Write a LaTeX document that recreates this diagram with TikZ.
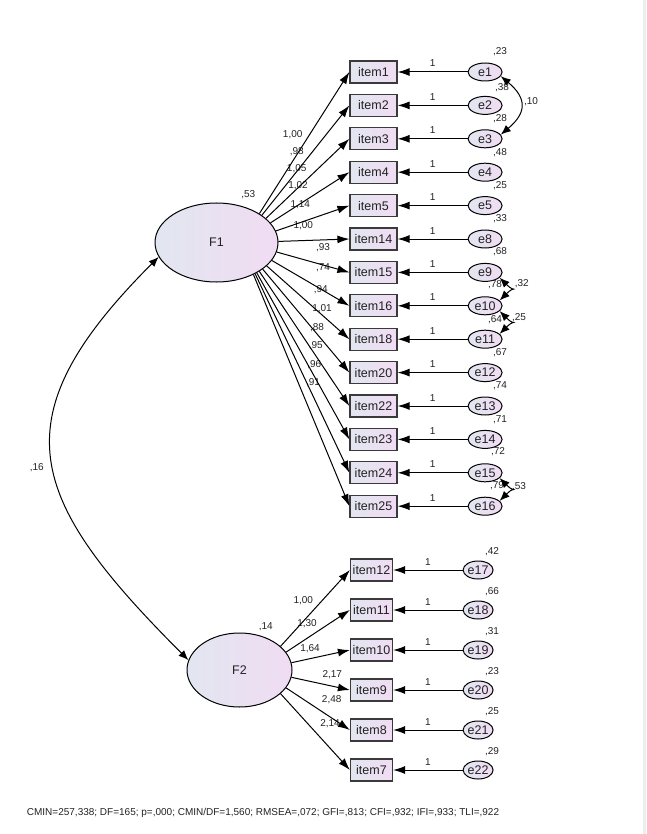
\documentclass[tikz,border=0pt]{standalone}
\usepackage{fontspec}
\setmainfont{Liberation Sans}
\usetikzlibrary{shapes.geometric, arrows.meta, positioning, calc}
\definecolor{azulgris}{HTML}{E2E6F0}
\definecolor{lila}{HTML}{F0DCF3}
\definecolor{borde}{HTML}{3A3A3A}
\definecolor{tinta}{HTML}{222222}
\definecolor{marco}{HTML}{EEEEEE}
\tikzset{
  observ/.style={rectangle, minimum width=47pt, minimum height=22pt, inner sep=1pt, text=tinta,
                 draw=borde, line width=1.2pt, left color=azulgris, right color=lila,
                 font=\fontsize{12.5}{12.5}\selectfont},
  observb/.style={observ, minimum width=42pt},
  latente/.style={ellipse, draw=black, line width=1pt, left color=azulgris, right color=lila,
                  text=tinta, font=\fontsize{12.5}{12.5}\selectfont},
  errorc/.style={ellipse, minimum width=34pt, minimum height=18pt, inner sep=0pt, text=tinta,
                 draw=black, line width=1pt, left color=azulgris, right color=lila,
                 font=\fontsize{12.5}{12.5}\selectfont},
  errorb/.style={errorc, minimum width=30pt},
  etiq/.style={font=\fontsize{10}{10}\selectfont, inner sep=0pt, text=tinta},
  arrow/.style={line width=1pt, -{Latex[length=12pt,width=8pt]}},
  covar/.style={line width=1pt, {Latex[length=10pt,width=8pt]}-{Latex[length=10pt,width=8pt]}}
}
\begin{document}
\begin{tikzpicture}[x=1pt, y=-1pt, node distance=10.2pt]
  \useasboundingbox (0,0) rectangle (646,834);
  \fill [marco] (643,0) rectangle (646,834);
  % factores
  \node (F1) [latente, minimum width=123pt, minimum height=79pt] at (216.5,242.5) {F1};
  \node (F2) [latente, minimum width=105pt, minimum height=74pt] at (239.5,670) {F2};
  % items F1
  \node (i1) [observ] at (373.5,72) {item1};
  \node (i2) [observ, below=of i1] {item2};
  \node (i3) [observ, below=of i2] {item3};
  \node (i4) [observ, below=of i3] {item4};
  \node (i5) [observ, below=of i4] {item5};
  \node (i14) [observ, below=of i5] {item14};
  \node (i15) [observ, below=of i14] {item15};
  \node (i16) [observ, below=of i15] {item16};
  \node (i18) [observ, below=of i16] {item18};
  \node (i20) [observ, below=of i18] {item20};
  \node (i22) [observ, below=of i20] {item22};
  \node (i23) [observ, below=of i22] {item23};
  \node (i24) [observ, below=of i23] {item24};
  \node (i25) [observ, below=of i24] {item25};
  % items F2
  \node (i12) [observb] at (371.5,570) {item12};
  \node (i11) [observb, below=16.8pt of i12] {item11};
  \node (i10) [observb, below=16.8pt of i11] {item10};
  \node (i9) [observb, below=16.8pt of i10] {item9};
  \node (i8) [observb, below=16.8pt of i9] {item8};
  \node (i7) [observb, below=16.8pt of i8] {item7};
  % errores
  \node (e1) [errorc, right=70pt of i1] {e1};
  \node (e2) [errorc, right=70pt of i2] {e2};
  \node (e3) [errorc, right=70pt of i3] {e3};
  \node (e4) [errorc, right=70pt of i4] {e4};
  \node (e5) [errorc, right=70pt of i5] {e5};
  \node (e8) [errorc, right=70pt of i14] {e8};
  \node (e9) [errorc, right=70pt of i15] {e9};
  \node (e10) [errorc, right=70pt of i16] {e10};
  \node (e11) [errorc, right=70pt of i18] {e11};
  \node (e12) [errorc, right=70pt of i20] {e12};
  \node (e13) [errorc, right=70pt of i22] {e13};
  \node (e14) [errorc, right=70pt of i23] {e14};
  \node (e15) [errorc, right=70pt of i24] {e15};
  \node (e16) [errorc, right=70pt of i25] {e16};
  \node (e17) [errorb, right=69.5pt of i12] {e17};
  \node (e18) [errorb, right=69.5pt of i11] {e18};
  \node (e19) [errorb, right=69.5pt of i10] {e19};
  \node (e20) [errorb, right=69.5pt of i9] {e20};
  \node (e21) [errorb, right=69.5pt of i8] {e21};
  \node (e22) [errorb, right=69.5pt of i7] {e22};
  % cargas
  \node (c1) [etiq] at (292.7,134.3) {1,00};
  \node (c2) [etiq] at (296.7,151.7) {,98};
  \node (c3) [etiq] at (296.7,168.3) {1,05};
  \node (c4) [etiq] at (298,185.7) {1,02};
  \node (c5) [etiq] at (300.3,205) {1,14};
  \node (c14) [etiq] at (303.3,226) {1,00};
  \node (c15) [etiq] at (323,247.3) {,93};
  \node (c16) [etiq] at (323,267.7) {,74};
  \node (c18) [etiq] at (320.7,289.3) {,94};
  \node (c20) [etiq] at (322,308.3) {1,01};
  \node (c22) [etiq] at (317,327.3) {,88};
  \node (c23) [etiq] at (315.7,346) {,95};
  \node (c24) [etiq] at (314.3,364.3) {,96};
  \node (c25) [etiq] at (313,382.7) {,91};
  \node (c12) [etiq] at (303.3,600.7) {1,00};
  \node (c11) [etiq] at (307,623.3) {1,30};
  \node (c10) [etiq] at (310,648.3) {1,64};
  \node (c9) [etiq] at (332.3,674.3) {2,17};
  \node (c8) [etiq] at (331.7,699.3) {2,48};
  \node (c7) [etiq] at (330,724) {2,14};
  \draw [arrow] (F1.34) -- (i1.west);
  \draw [arrow] (F1.31) -- (i2.west);
  \draw [arrow] (F1.26) -- (i3.west);
  \draw [arrow] (F1.20) -- (i4.west);
  \draw [arrow] (F1.11) -- (i5.west);
  \draw [arrow] (F1.1) -- (i14.west);
  \draw [arrow] (F1.-9) -- (i15.west);
  \draw [arrow] (F1.-18) -- (i16.west);
  \draw [arrow] (F1.-25) -- (i18.west);
  \draw [arrow] (F1.-30) -- (i20.west);
  \draw [arrow] (F1.-34) -- (i22.west);
  \draw [arrow] (F1.-37) -- (i23.west);
  \draw [arrow] (F1.-39) -- (i24.west);
  \draw [arrow] (F1.-41) -- (i25.west);
  \draw [arrow] (F2.30) -- (i12.west);
  \draw [arrow] (F2.21) -- (i11.west);
  \draw [arrow] (F2.8) -- (i10.west);
  \draw [arrow] (F2.-8) -- (i9.west);
  \draw [arrow] (F2.-21) -- (i8.west);
  \draw [arrow] (F2.-30) -- (i7.west);
  % errores -> items
  \draw [arrow] (e1) -- (i1) node (u1) [etiq, midway, above=4.5pt] {1};
  \draw [arrow] (e2) -- (i2) node (u2) [etiq, midway, above=4.5pt] {1};
  \draw [arrow] (e3) -- (i3) node (u3) [etiq, midway, above=4.5pt] {1};
  \draw [arrow] (e4) -- (i4) node (u4) [etiq, midway, above=4.5pt] {1};
  \draw [arrow] (e5) -- (i5) node (u5) [etiq, midway, above=4.5pt] {1};
  \draw [arrow] (e8) -- (i14) node (u8) [etiq, midway, above=4.5pt] {1};
  \draw [arrow] (e9) -- (i15) node (u9) [etiq, midway, above=4.5pt] {1};
  \draw [arrow] (e10) -- (i16) node (u10) [etiq, midway, above=4.5pt] {1};
  \draw [arrow] (e11) -- (i18) node (u11) [etiq, midway, above=4.5pt] {1};
  \draw [arrow] (e12) -- (i20) node (u12) [etiq, midway, above=4.5pt] {1};
  \draw [arrow] (e13) -- (i22) node (u13) [etiq, midway, above=4.5pt] {1};
  \draw [arrow] (e14) -- (i23) node (u14) [etiq, midway, above=4.5pt] {1};
  \draw [arrow] (e15) -- (i24) node (u15) [etiq, midway, above=4.5pt] {1};
  \draw [arrow] (e16) -- (i25) node (u16) [etiq, midway, above=4.5pt] {1};
  \draw [arrow] (e17) -- (i12) node (u17) [etiq, midway, above=4.5pt] {1};
  \draw [arrow] (e18) -- (i11) node (u18) [etiq, midway, above=4.5pt] {1};
  \draw [arrow] (e19) -- (i10) node (u19) [etiq, midway, above=4.5pt] {1};
  \draw [arrow] (e20) -- (i9) node (u20) [etiq, midway, above=4.5pt] {1};
  \draw [arrow] (e21) -- (i8) node (u21) [etiq, midway, above=4.5pt] {1};
  \draw [arrow] (e22) -- (i7) node (u22) [etiq, midway, above=4.5pt] {1};
  % varianzas
  \node (vF1) [etiq] at (248.3,195) {,53};
  \node (vF2) [etiq] at (265.7,626.7) {,14};
  \node (v1) [etiq] at ($(e1)+(15,-20)$) {,23};
  \node (v2) [etiq] at ($(e2)+(17,-18)$) {,38};
  \node (v3) [etiq] at ($(e3)+(15,-20)$) {,28};
  \node (v4) [etiq] at ($(e4)+(15,-20)$) {,48};
  \node (v5) [etiq] at ($(e5)+(15,-20)$) {,25};
  \node (v8) [etiq] at ($(e8)+(15,-20)$) {,33};
  \node (v9) [etiq] at ($(e9)+(15,-21)$) {,68};
  \node (v10) [etiq] at ($(e10)+(10,-21)$) {,78};
  \node (v11) [etiq] at ($(e11)+(10,-20)$) {,64};
  \node (v12) [etiq] at ($(e12)+(15,-20)$) {,67};
  \node (v13) [etiq] at ($(e13)+(15,-20)$) {,74};
  \node (v14) [etiq] at ($(e14)+(15,-20)$) {,71};
  \node (v15) [etiq] at ($(e15)+(13,-21)$) {,72};
  \node (v16) [etiq] at ($(e16)+(12,-21)$) {,79};
  \node (v17) [etiq] at ($(e17)+(14,-18)$) {,42};
  \node (v18) [etiq] at ($(e18)+(14,-18)$) {,66};
  \node (v19) [etiq] at ($(e19)+(14,-18)$) {,31};
  \node (v20) [etiq] at ($(e20)+(14,-18)$) {,23};
  \node (v21) [etiq] at ($(e21)+(14,-18)$) {,25};
  \node (v22) [etiq] at ($(e22)+(14,-18)$) {,29};
  % covarianzas
  \draw [covar] (F1.194) to [out=225, in=135, looseness=1.45] (F2.169);
  \node (k12) [etiq] at (36.7,468) {,16};
  \draw [covar] (e1.-15) to [out=-40, in=40, looseness=1.5] (e3.15);
  \node (k13) [etiq] at (531,102) {,10};
  \draw [covar] (e9.-20) to [out=-45, in=45, looseness=2.6] (e10.20);
  \node (k910) [etiq] at (521.7,284) {,32};
  \draw [covar] (e10.-20) to [out=-45, in=45, looseness=2.6] (e11.20);
  \node (k1011) [etiq] at (519,318) {,25};
  \draw [covar] (e15.-20) to [out=-45, in=45, looseness=2.6] (e16.20);
  \node (k1516) [etiq] at (519,487) {,53};
  % ajuste
  \node (ajuste) [etiq] at (263,812.5) {CMIN=257,338; DF=165; p=,000; CMIN/DF=1,560; RMSEA=,072; GFI=,813; CFI=,932; IFI=,933; TLI=,922};
\end{tikzpicture}
\end{document}
